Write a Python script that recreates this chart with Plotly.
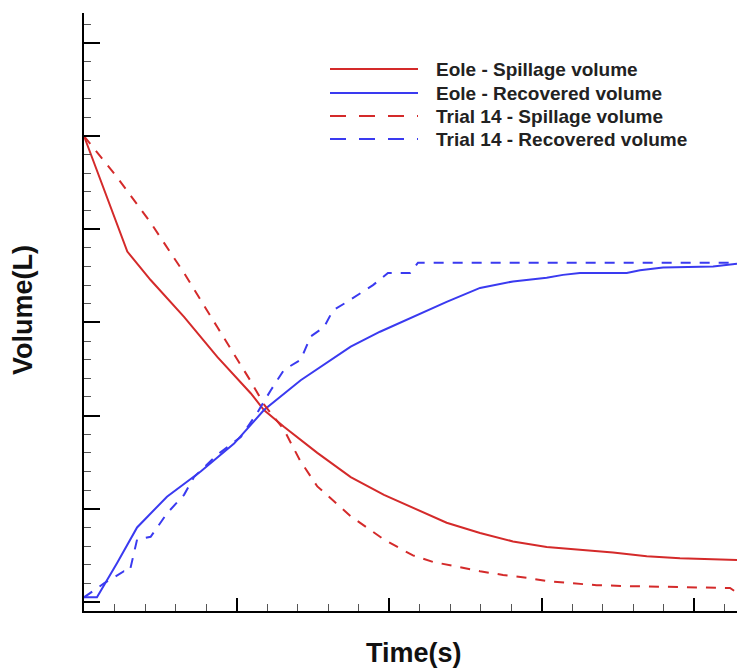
import plotly.graph_objects as go

# ---- data (time in s, volume in L) ----
eole_spill_t = [0.0, 2.84, 4.37, 6.56, 8.74, 10.93, 11.80, 13.11, 15.30, 17.49, 19.67, 21.64,
                23.78, 25.97, 28.13, 30.34, 32.52, 34.69, 36.90, 39.08, 42.82]
eole_spill_v = [5.00, 3.76, 3.455, 3.06, 2.63, 2.24, 2.06, 1.88, 1.60, 1.34, 1.15, 1.01,
                0.85, 0.74, 0.65, 0.59, 0.56, 0.53, 0.49, 0.47, 0.45]

eole_rec_t = [0.0, 0.85, 2.18, 3.48, 5.44, 7.65, 9.84, 11.80, 14.21, 17.49, 19.41, 21.57,
              23.78, 25.97, 28.13, 30.34, 31.41, 32.52, 35.59, 36.46, 37.97, 41.25, 42.82]
eole_rec_v = [0.05, 0.05, 0.42, 0.80, 1.13, 1.40, 1.70, 2.06, 2.38, 2.74, 2.90, 3.06,
              3.22, 3.37, 3.44, 3.48, 3.51, 3.53, 3.53, 3.56, 3.59, 3.60, 3.63]

trial_spill_t = [0.0, 2.16, 4.37, 6.56, 8.74, 10.93, 11.80, 13.11, 14.16, 15.30, 17.49, 19.67,
                 21.57, 22.89, 24.44, 25.97, 27.48, 29.03, 30.56, 32.07, 33.62, 35.80, 39.08,
                 42.36, 42.82]
trial_spill_v = [5.00, 4.56, 4.07, 3.53, 2.95, 2.37, 2.12, 1.85, 1.52, 1.24, 0.92, 0.67,
                 0.50, 0.43, 0.38, 0.33, 0.29, 0.26, 0.22, 0.20, 0.18, 0.17, 0.16,
                 0.15, 0.10]

trial_rec_t = [0.0, 1.31, 2.62, 3.00, 3.48, 4.37, 5.44, 6.56, 7.21, 8.74, 10.28, 11.36, 12.24,
               13.11, 14.21, 14.87, 15.74, 16.33, 17.25, 18.23, 18.95, 19.93, 21.38, 21.90, 42.82]
trial_rec_v = [0.05, 0.20, 0.33, 0.33, 0.67, 0.70, 0.95, 1.15, 1.34, 1.58, 1.77, 2.03, 2.27,
               2.49, 2.60, 2.85, 2.95, 3.13, 3.22, 3.32, 3.40, 3.53, 3.53, 3.64, 3.64]

legend_labels = ["Eole - Spillage volume", "Eole - Recovered volume",
                 "Trial 14 - Spillage volume", "Trial 14 - Recovered volume"]

RED = "#d42a2a"
BLUE = "#3a3af0"

W, H = 737, 671
L, R, T, B = 84, 0, 13, 60
PW, PH = W - L - R, H - T - B


def px_x(px):
    return (px - L) / PW


def px_y(py):
    return (H - B - py) / PH


fig = go.Figure()
series = [
    (eole_spill_t, eole_spill_v, RED, "solid"),
    (eole_rec_t, eole_rec_v, BLUE, "solid"),
    (trial_spill_t, trial_spill_v, RED, "10px,9px"),
    (trial_rec_t, trial_rec_v, BLUE, "10px,9px"),
]
for (t, v, c, d), name in zip(series, legend_labels):
    fig.add_trace(go.Scatter(x=t, y=v, mode="lines", name=name,
                             line=dict(color=c, width=2, dash=d), showlegend=False))

# manual legend
row_y = [69, 93, 116, 139]
shapes = []
annotations = []
for (t, v, c, d), name, ry in zip(series, legend_labels, row_y):
    shapes.append(dict(type="line", xref="paper", yref="paper",
                       x0=px_x(330), x1=px_x(418), y0=px_y(ry), y1=px_y(ry),
                       line=dict(color=c, width=2.2,
                                 dash="solid" if d == "solid" else "16px,13px")))
    annotations.append(dict(text=name, xref="paper", yref="paper",
                            x=px_x(434), y=px_y(ry), xanchor="left", yanchor="middle",
                            showarrow=False,
                            font=dict(family="Liberation Sans, Arial, Helvetica", size=19,
                                      color="#222222", weight="bold")))

annotations.append(dict(text="Time(s)", xref="paper", yref="paper",
                        x=px_x(414), y=px_y(653), xanchor="center", yanchor="middle",
                        showarrow=False,
                        font=dict(family="Liberation Sans, Arial, Helvetica", size=27,
                                  color="#111111", weight="bold")))
annotations.append(dict(text="Volume(L)", xref="paper", yref="paper",
                        x=px_x(23), y=px_y(310), xanchor="center", yanchor="middle",
                        textangle=-90, showarrow=False,
                        font=dict(family="Liberation Sans, Arial, Helvetica", size=27,
                                  color="#111111", weight="bold")))

fig.update_layout(
    width=W, height=H, autosize=False,
    margin=dict(l=L, r=R, t=T, b=B, pad=0),
    paper_bgcolor="white", plot_bgcolor="white",
    shapes=shapes, annotations=annotations,
    xaxis=dict(range=[0, 42.82], showgrid=False, zeroline=False,
               showline=True, linecolor="black", linewidth=2,
               tickmode="linear", tick0=0, dtick=10, ticks="inside",
               ticklen=13, tickwidth=2, tickcolor="black", showticklabels=False,
               minor=dict(ticks="inside", ticklen=7, tickwidth=1, tickcolor="#555555",
                          dtick=2, showgrid=False)),
    yaxis=dict(range=[-0.0966, 6.32], showgrid=False, zeroline=False,
               showline=True, linecolor="black", linewidth=2,
               tickmode="linear", tick0=0, dtick=1, ticks="inside",
               ticklen=16, tickwidth=2, tickcolor="black", showticklabels=False,
               minor=dict(ticks="inside", ticklen=7, tickwidth=1, tickcolor="#555555",
                          dtick=0.2, showgrid=False)),
)

fig.write_html("out.html")
